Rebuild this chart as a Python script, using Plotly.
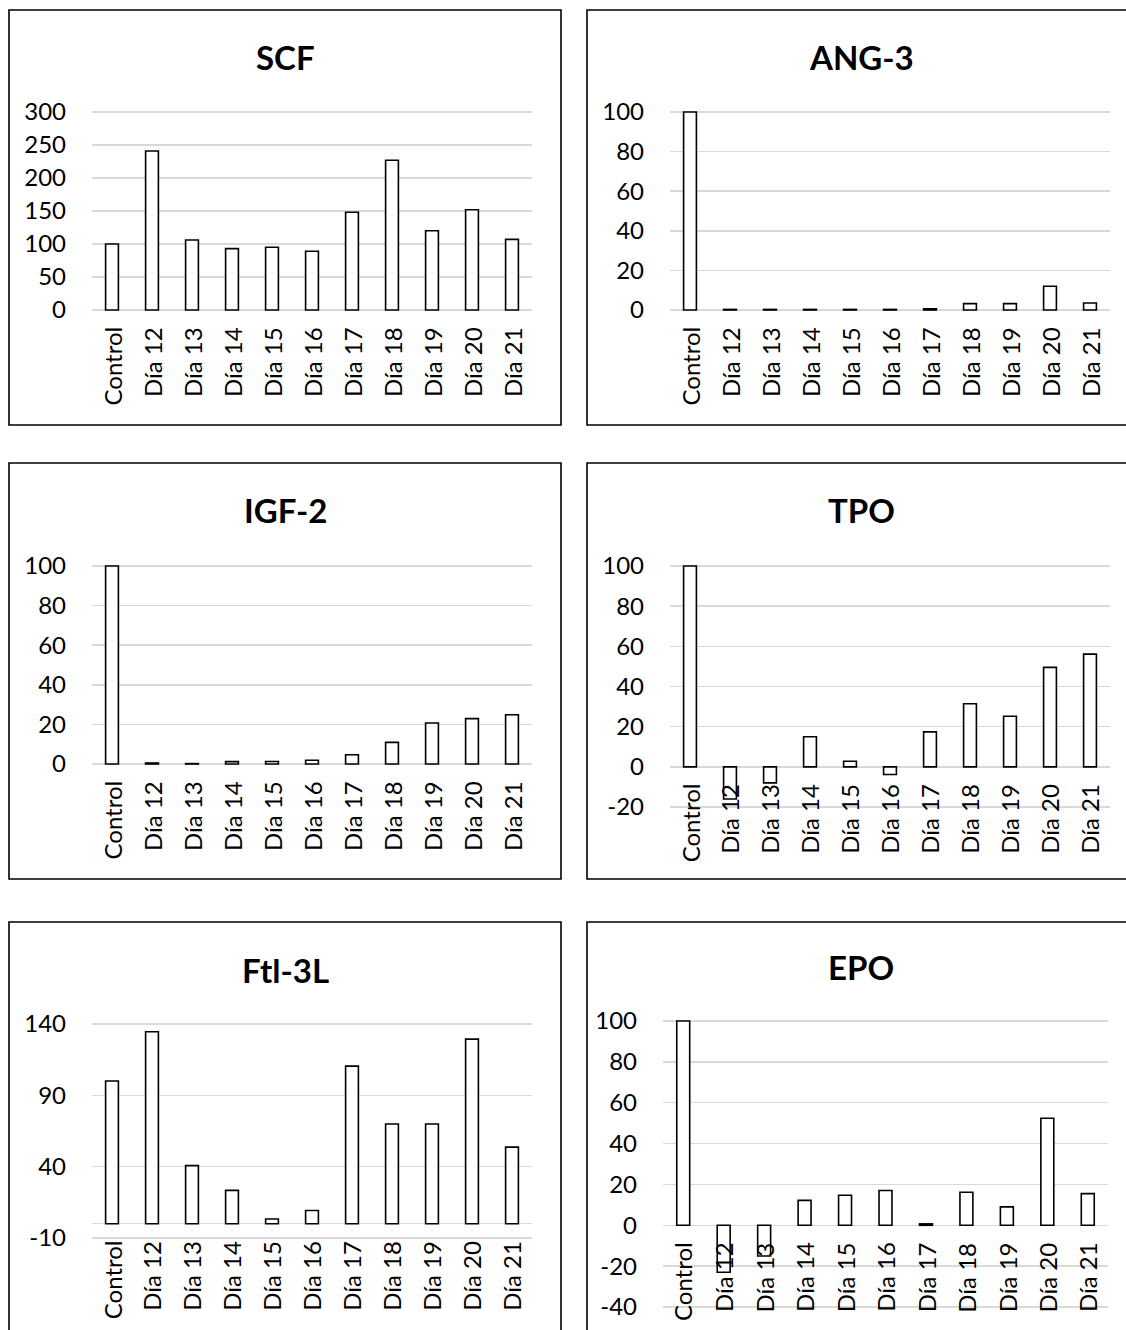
import plotly.graph_objects as go

categories = ["Control", "Día 12", "Día 13", "Día 14", "Día 15", "Día 16",
              "Día 17", "Día 18", "Día 19", "Día 20", "Día 21"]

titles = ["SCF", "ANG-3", "IGF-2", "TPO", "Ftl-3L", "EPO"]

scf = [100, 241, 106, 93, 95, 89, 148, 227, 120, 152, 107]
ang3 = [100, 0.3, 0.3, 0.3, 0.3, 0.3, 0.6, 3.2, 3.2, 12, 3.5]
igf2 = [100, 0.5, 0.2, 1.2, 1.3, 1.9, 4.7, 10.9, 20.7, 22.9, 24.9]
tpo = [100, -16, -8, 15, 2.8, -3.8, 17.4, 31.4, 25.2, 49.5, 56.1]
ftl3l = [100, 134.6, 40.7, 23.4, 3.3, 9.3, 110.5, 69.9, 69.9, 129.4, 53.7]
epo = [100, -23, -15, 12.2, 14.7, 17, 0.7, 16.2, 9, 52.4, 15.5]

series = [scf, ang3, igf2, tpo, ftl3l, epo]

# y tick labels per panel (hyphen minus, as in the reference)
scf_ticks = [0, 50, 100, 150, 200, 250, 300]
ang3_ticks = [0, 20, 40, 60, 80, 100]
igf2_ticks = [0, 20, 40, 60, 80, 100]
tpo_ticks = [-20, 0, 20, 40, 60, 80, 100]
ftl3l_ticks = [-10, 40, 90, 140]
epo_ticks = [-40, -20, 0, 20, 40, 60, 80, 100]
tick_sets = [scf_ticks, ang3_ticks, igf2_ticks, tpo_ticks, ftl3l_ticks, epo_ticks]

W, H = 1126, 1330

# plot areas in pixels: (x0, x1, y of top tick, y of bottom tick)
areas = [
    (92, 532, 112, 310),
    (670, 1110, 112, 310),
    (92, 532, 566, 764),
    (670, 1110, 566, 807),
    (92, 532, 1024, 1238),
    (663, 1108, 1021, 1307),
]
# panel boxes (x0, y0, x1, y1) in pixels
boxes = [
    (9, 10, 561, 425),
    (587, 10, 1135, 425),
    (9, 463, 561, 879),
    (587, 463, 1135, 879),
    (9, 922, 561, 1345),
    (587, 922, 1135, 1345),
]
title_pos = [(285, 57), (861, 57), (285, 510), (861, 510), (285, 970), (861, 967)]

FONT = "Lato"
TICK_SIZE = 24
TITLE_SIZE = 33
GRID = "#d9d9d9"
PAD = 3  # px of extra room so end gridlines are not clipped

fig = go.Figure()
layout = dict(
    width=W, height=H,
    margin=dict(l=0, r=0, t=0, b=0, pad=0, autoexpand=False),
    paper_bgcolor="white", plot_bgcolor="white", showlegend=False,
    font=dict(family=FONT, size=TICK_SIZE, color="#000000"),
)
annotations = []
shapes = []

for i, (vals, title) in enumerate(zip(series, titles)):
    n = i + 1
    xa = "x" if n == 1 else f"x{n}"
    ya = "y" if n == 1 else f"y{n}"
    xkey = "xaxis" if n == 1 else f"xaxis{n}"
    ykey = "yaxis" if n == 1 else f"yaxis{n}"
    x0, x1, yt, yb = areas[i]
    fig.add_trace(go.Bar(
        x=categories, y=vals, xaxis=xa, yaxis=ya, width=0.32,
        marker=dict(color="white", line=dict(color="black", width=1.6)),
    ))
    layout[xkey] = dict(
        domain=[x0 / W, x1 / W], anchor=ya, type="category",
        range=[-0.5, len(categories) - 0.5],
        showticklabels=False, showgrid=False, zeroline=False, showline=False,
        ticks="", fixedrange=True, automargin=False,
    )
    tv = tick_sets[i]
    lo, hi = tv[0], tv[-1]
    u = (hi - lo) / (yb - yt)  # data units per pixel
    layout[ykey] = dict(
        domain=[1 - (yb + PAD) / H, 1 - (yt - PAD) / H], anchor=xa,
        range=[lo - PAD * u, hi + PAD * u],
        tickmode="array", tickvals=tv, ticktext=[str(t) for t in tv],
        showgrid=True, gridcolor=GRID, gridwidth=1.5,
        zeroline=True, zerolinecolor=GRID, zerolinewidth=1.5,
        showline=False, ticks="", ticklabelstandoff=22 + PAD,
        tickfont=dict(family=FONT, size=TICK_SIZE, color="#000000"),
        fixedrange=True, automargin=False,
    )
    for c in categories:
        annotations.append(dict(
            x=c, y=0, xref=xa, yref=ya, text=c, showarrow=False,
            textangle=-90, xanchor="center", yanchor="top", yshift=-15,
            font=dict(family=FONT, size=TICK_SIZE, color="#000000"),
        ))
    tx, ty = title_pos[i]
    annotations.append(dict(
        x=tx / W, y=1 - ty / H, xref="paper", yref="paper", text=f"<b>{title}</b>",
        showarrow=False, xanchor="center", yanchor="middle",
        font=dict(family=FONT, size=TITLE_SIZE, color="#000000"),
    ))
    bx0, by0, bx1, by1 = boxes[i]
    shapes.append(dict(
        type="rect", xref="paper", yref="paper",
        x0=bx0 / W, x1=bx1 / W, y0=1 - by1 / H, y1=1 - by0 / H,
        line=dict(color="#000000", width=1.6), fillcolor="rgba(0,0,0,0)", layer="below",
    ))

layout["annotations"] = annotations
layout["shapes"] = shapes
fig.update_layout(**layout)
fig.write_html(
    "out.html",
    config={"displayModeBar": False, "staticPlot": True},
    post_script=(
        "document.body.style.margin='0';"
        "document.body.style.overflow='hidden';"
    ),
)
